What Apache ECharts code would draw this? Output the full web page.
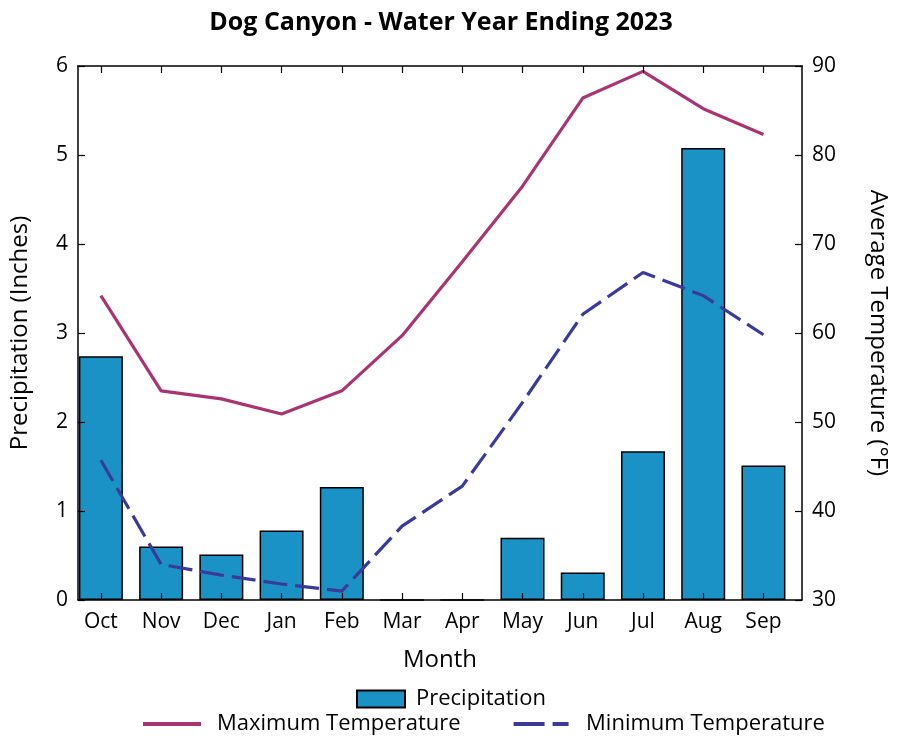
<!DOCTYPE html>
<html>
<head>
<meta charset="utf-8">
<script src="https://cdn.jsdelivr.net/npm/echarts@6/dist/echarts.min.js"></script>
<style>
  html, body { margin: 0; padding: 0; background: #fff; }
  #chart { width: 900px; height: 743px; }
</style>
</head>
<body>
<div id="chart"></div>
<script>
// data
var months = ['Oct', 'Nov', 'Dec', 'Jan', 'Feb', 'Mar', 'Apr', 'May', 'Jun', 'Jul', 'Aug', 'Sep'];
var precip = [2.74, 0.60, 0.51, 0.78, 1.27, 0, 0, 0.70, 0.31, 1.67, 5.08, 1.51];
var maxTemp = [64.2, 53.5, 52.6, 50.9, 53.5, 59.7, 68.0, 76.5, 86.4, 89.4, 85.2, 82.3];
var minTemp = [45.7, 34.0, 32.8, 31.8, 31.0, 38.3, 42.8, 52.2, 62.1, 66.8, 64.2, 59.8];

// month positions 1..12 on a numeric x axis (the plot box is not symmetric around the months)
var monthPos = months.map(function (m, i) { return i + 1; });
function pairs(vals) {
  return vals.map(function (v, i) { return [monthPos[i], v]; });
}

var font = 'Open Sans';
var black = '#000';
var chart = echarts.init(document.getElementById('chart'));

var tick = { show: true, inside: true, length: 7, lineStyle: { color: black, width: 1.2 } };

chart.setOption({
  backgroundColor: '#fff',
  animation: false,
  textStyle: { fontFamily: font, color: black },
  title: {
    text: 'Dog Canyon - Water Year Ending 2023',
    left: 436, top: 5, textAlign: 'center',
    textStyle: { fontFamily: font, fontWeight: 'bold', fontSize: 25, color: black }
  },
  grid: { left: 78, right: 98, top: 66, bottom: 143 },
  legend: [
    {
      data: [{ name: 'Precipitation', icon: 'rect' }],
      top: 683, left: 351,
      itemWidth: 48, itemHeight: 17,
      textStyle: { fontFamily: font, fontSize: 22, color: black, padding: [0, 0, 0, 6] }
    },
    {
      data: [
        { name: 'Maximum Temperature', icon: 'path://M0,0H58V4H0Z' },
        { name: 'Minimum Temperature', icon: 'path://M0,0H31V4H0ZM39,0H55V4H39Z' }
      ],
      top: 708, left: 138,
      itemWidth: 58, itemHeight: 4, itemGap: 53,
      textStyle: { fontFamily: font, fontSize: 22, color: black, padding: [0, 0, 0, 11] }
    }
  ],
  xAxis: [
    {
      type: 'value', min: 0.62, max: 12.64, position: 'bottom', z: 10,
      name: 'Month', nameLocation: 'middle', nameGap: 48,
      nameTextStyle: { fontFamily: font, fontSize: 24, color: black },
      axisLine: { show: true, lineStyle: { color: black, width: 1.5 } },
      axisTick: Object.assign({ customValues: monthPos }, tick),
      axisLabel: {
        customValues: monthPos,
        formatter: function (v) { return months[Math.round(v) - 1]; },
        fontFamily: font, fontSize: 21, color: black, margin: 12
      },
      splitLine: { show: false }
    },
    {
      type: 'value', min: 0.62, max: 12.64, position: 'top', z: 10,
      axisLine: { show: true, lineStyle: { color: black, width: 1.5 } },
      axisTick: Object.assign({ customValues: monthPos }, tick),
      axisLabel: { show: false },
      splitLine: { show: false }
    }
  ],
  yAxis: [
    {
      type: 'value', min: 0, max: 6, interval: 1, position: 'left', z: 10,
      name: 'Precipitation (Inches)', nameLocation: 'middle', nameGap: 46,
      nameTextStyle: { fontFamily: font, fontSize: 24, color: black },
      axisLine: { show: true, lineStyle: { color: black, width: 1.5 } },
      axisTick: tick,
      axisLabel: { fontFamily: font, fontSize: 21, color: black, margin: 10 },
      splitLine: { show: false }
    },
    {
      type: 'value', min: 30, max: 90, interval: 10, position: 'right', z: 10,
      name: 'Average Temperature (°F)', nameLocation: 'middle', nameGap: 64, nameRotate: -90,
      nameTextStyle: { fontFamily: font, fontSize: 24, color: black },
      axisLine: { show: true, lineStyle: { color: black, width: 1.5 } },
      axisTick: tick,
      axisLabel: { fontFamily: font, fontSize: 21, color: black, margin: 10 },
      splitLine: { show: false }
    }
  ],
  series: [
    {
      name: 'Precipitation', type: 'bar', data: pairs(precip),
      xAxisIndex: 0, yAxisIndex: 0, barWidth: 44,
      itemStyle: { color: '#1b92c5', borderColor: black, borderWidth: 1.5 }
    },
    {
      name: 'Maximum Temperature', type: 'line', data: pairs(maxTemp),
      xAxisIndex: 0, yAxisIndex: 1, symbol: 'none',
      lineStyle: { color: '#a83571', width: 3.2 },
      itemStyle: { color: '#a83571' }
    },
    {
      name: 'Minimum Temperature', type: 'line', data: pairs(minTemp),
      xAxisIndex: 0, yAxisIndex: 1, symbol: 'none',
      lineStyle: { color: '#3a3b99', width: 3.2, type: [24, 8] },
      itemStyle: { color: '#3a3b99' }
    }
  ]
});
</script>
</body>
</html>
